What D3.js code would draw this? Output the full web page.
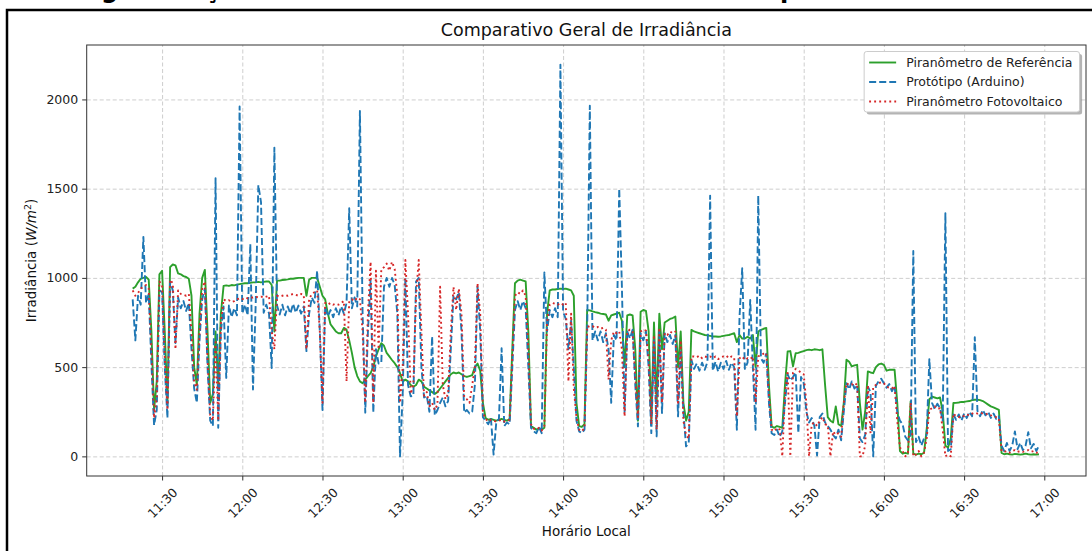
<!DOCTYPE html>
<html><head><meta charset="utf-8">
<script src="https://cdn.jsdelivr.net/npm/d3@7"></script>
<style>
body{margin:0;background:#fff}
svg{display:block}
text{font-family:"DejaVu Sans",sans-serif}
</style>
</head><body>
<svg id="chart" width="1092" height="551"></svg>
<script>
// ---------- DATA (one value per minute, starting at 11:19) ----------
const startTime = "11:19";
const stepMinutes = 1;

const referencia = [
 940,
 950, 975, 995,1000,1005, 990, 700, 260, 420,1020,
1040, 700, 300,1060,1075,1070,1025,1020,1010,1005,
 995, 900, 500, 400, 800,1000,1045, 700, 300, 350,
 700, 400, 800, 955, 958, 955, 960, 958, 962, 965,
 968, 970, 970, 972, 975, 975, 978, 975, 978, 980,
 980, 960, 700, 985, 985, 988, 990, 992, 995, 995,
 998,1000,1000,1000, 900, 990,1000,1000,1000, 950,
 900, 880, 800, 740, 720, 700, 690, 690, 720, 710,
 650, 580, 500, 450, 420, 410, 430, 450, 466, 500,
 560, 600, 634, 620, 580, 560, 540, 522, 500, 466,
 420, 430, 420, 400, 390, 400, 430, 420, 390, 380,
 370, 360, 350, 360, 380, 400, 420, 440, 460, 470,
 465, 470, 460, 450, 445, 450, 455, 500, 520, 480,
 300, 215, 205, 210, 205, 200, 205, 210, 205, 200,
 210, 600, 970, 985, 990, 985, 980, 700, 170, 160,
 150, 155, 150, 160, 800, 930, 935, 935, 938, 940,
 938, 940, 935, 930, 900, 300, 170, 165, 180, 820,
 818, 812, 808, 805, 800, 798, 795, 760, 790, 795,
 800, 805, 760, 500, 790, 795, 790, 600, 200, 810,
 820, 815, 700, 200, 750, 300, 800, 600, 750, 760,
 770, 775, 784, 500, 700, 300, 200, 250, 709, 700,
 695, 690, 685, 680, 678, 675, 672, 672, 670, 672,
 675, 678, 680, 685, 690, 640, 680, 660, 660, 670,
 660, 680, 500, 700, 709, 715, 720, 400, 168, 160,
 170, 165, 160, 400, 588, 590, 504, 578, 580, 585,
 590, 595, 598, 595, 600, 598, 595, 600, 400, 220,
 200, 190, 280, 180, 170, 300, 541, 530, 504, 510,
 513, 300, 150, 250, 476, 470, 466, 500, 515, 520,
 513, 480, 485, 485, 485, 300,  30,  15,  20,  15,
 308,  15,  10,  15,  12,  20, 150, 320, 335, 330,
 325, 330, 250,  60,  50, 100, 299, 300, 302, 305,
 305, 308, 310, 315, 317, 317, 315, 310, 300, 290,
 280, 275, 268, 261,  20,  12,  15,  12,  10,  14,
  12,  10,  12,  15,  12,  10,  12,  10,  12
];

const prototipo = [
 880,
 650, 900, 850,1230, 860, 910, 520, 175, 260, 930,
 920, 500, 215, 980, 930, 635, 890, 830, 870, 815,
 860, 600, 380, 300, 650, 880, 940, 500, 200, 170,
1558, 160, 700, 840, 440, 845, 780, 830, 790,1960,
 800, 850, 790,1190, 375, 845,1520,1425, 805, 850,
 800, 495,1730, 845, 795, 850, 790, 840, 800, 855,
 805, 845, 800, 840, 590, 800, 890, 860,1040, 700,
 260, 840, 785, 820, 780, 830, 790, 840, 800, 860,
1390, 830, 890, 840,1935, 800, 245, 700, 990, 245,
 600, 520, 525, 950,1000, 950,1000, 960, 800,   0,
 350,1000, 400, 336, 340, 980,1000, 500, 330, 340,
 250, 672, 230, 260, 300, 330, 280, 310, 600, 900,
 880, 920, 700, 245, 260, 240, 250, 400, 950, 700,
 220, 200, 180, 215,  10, 190, 210, 606, 170, 190,
 180, 500, 820, 870, 820, 870, 830, 500, 160, 140,
 130, 165, 130,1030, 700, 820, 780, 830, 780,2195,
 810, 770, 600, 760, 500, 200, 140, 130, 150, 690,
1965, 650, 700, 650, 700, 640, 690, 600, 300, 680,
 650,1500, 950, 250, 700, 660, 710, 400, 168, 690,
 650, 700, 500, 130, 650, 112, 700, 243, 690, 640,
 680, 630, 680, 224, 600, 250,  56,  75, 540, 490,
 520, 480, 525, 485, 530,1461, 480, 530, 475, 525,
 490, 535, 485, 525, 500, 149, 784,1054, 490, 525,
 877, 500, 149,1461, 550, 525, 575, 300, 130, 120,
 150, 110, 140, 300, 460, 425, 445, 470, 130, 445,
 410, 250, 190, 215, 170,   5, 220, 240, 190, 170,
 150, 120, 100, 150,  90, 250, 410, 375, 420, 380,
 400, 100,  80, 120, 390, 360,   0, 395, 420, 435,
 410, 385, 405, 365, 395, 250, 200, 180, 110,  90,
 120,1151,  80, 110,  60, 100, 120, 545, 300, 265,
 295, 270, 200,1362,  30,  40, 235, 205, 235, 200,
 240, 215, 250, 225, 668, 255, 225, 260, 230, 250,
 215, 240, 210, 225,  60,  30,  75,  30,  60, 140,
  40,  75,  35,  60, 135,  45,  70,  30,  60
];

const fotovoltaico = [
 930,
 900, 915, 940, 950, 960, 940, 600, 215, 330, 980,
 960, 560, 260, 990, 970, 600, 930, 910, 905, 900,
 910, 700, 420, 373, 700, 940, 980, 550, 230, 200,
 640, 200, 750, 880, 870, 875, 865, 870, 880, 885,
 880, 890, 885, 890, 890, 895, 890, 895, 890, 895,
 900, 700, 600, 900, 895, 900, 905, 900, 905, 910,
 905, 900, 910, 905, 600, 880, 910, 920, 930, 700,
 300, 860, 850, 860, 850, 855, 850, 860, 870, 420,
 870, 880, 870, 890, 880, 700, 300, 800,1090, 300,
1040, 600,1050,1060,1080,1040,1090,1050, 900, 300,
 500,1100, 800, 350, 400, 900,1100, 700, 340, 360,
 280, 300, 260, 290, 950, 400, 320, 350, 700, 950,
 820, 940, 800, 330, 320, 300, 400, 500, 970, 800,
 250, 210, 195, 205, 200, 195, 200, 205, 195, 200,
 205, 550, 900, 920, 910, 930, 900, 600, 180, 155,
 150, 160, 145, 170, 750, 850, 860, 855, 850, 860,
 850, 860, 420, 800, 380, 220, 150, 140, 160, 730,
 725, 730, 720, 725, 715, 720, 710, 430, 650, 700,
 690, 700, 600, 224, 700, 710, 700, 450, 220, 700,
 710, 705, 550, 180, 680, 150, 720, 300, 690, 680,
 700, 690, 700, 300, 650, 200, 120, 100, 560, 560,
 555, 565, 550, 560, 555, 560, 550, 560, 545, 555,
 560, 565, 550, 560, 555, 224, 550, 560, 540, 550,
 545, 560, 300, 560, 570, 575, 580, 350, 150, 140,
 160, 150,   0, 350, 480,   0, 470, 490, 480, 470,
 460, 300,   0, 180, 190, 170, 200, 220, 180, 175,
   0, 140, 120, 130, 110, 300, 410, 400, 405, 395,
 410,   0,   0,  60, 400, 130, 390, 400, 410, 415,
 410, 390, 385, 380, 395, 200,  50,  30,   0,  20,
 300,   0,  10,  30,   0,  20, 100, 260, 270, 280,
 265, 270, 150,   0,  10,   0, 240, 225, 220, 230,
 225, 235, 230, 240, 245, 240, 245, 240, 235, 240,
 230, 225, 220, 215,  30,  25,  30,  20,  30,  35,
  25,  30,  25,  30,  35,  25,  30,  20,  25
];

const seriesNames = ["Piranômetro de Referência", "Protótipo (Arduino)", "Piranômetro Fotovoltaico"];
const xTickLabels = ["11:30","12:00","12:30","13:00","13:30","14:00","14:30","15:00","15:30","16:00","16:30","17:00"];
const yTickValues = [0, 500, 1000, 1500, 2000];
const xDomain = ["11:01:48", "17:15:36"];
const yDomain = [-110, 2305];
const chartTitle = "Comparativo Geral de Irradiância";
const xLabel = "Horário Local";

// ---------- LAYOUT ----------
const svg = d3.select("#chart");
const plot = {left: 86.7, top: 45, right: 1086, bottom: 476};

const parseHM = d3.timeParse("%H:%M");
const parseHMS = d3.timeParse("%H:%M:%S");
const t0 = parseHM(startTime);

const x = d3.scaleTime().domain(xDomain.map(parseHMS)).range([plot.left, plot.right]);
const y = d3.scaleLinear().domain(yDomain).range([plot.bottom, plot.top]);

function toPoints(arr){ return arr.map((v,i)=>({t:d3.timeMinute.offset(t0, i*stepMinutes), v})); }

// descenders of the document caption that sits just above the figure (cut off by the page crop)
const cap = svg.append("g").attr("font-weight","bold").attr("font-size",24).attr("fill","#000");
cap.append("text").attr("x",101).attr("y",-2.5).text("g");
cap.append("text").attr("x",205).attr("y",-2.5).text("ç");
cap.append("text").attr("x",780).attr("y",-2.5).text("p");

// figure border
svg.append("rect").attr("x",7).attr("y",10).attr("width",1200).attr("height",700)
  .attr("fill","none").attr("stroke","#000").attr("stroke-width",2.5);

// grid
const xTicks = xTickLabels.map(parseHM);
const gridColor = "#c8c8c8";
svg.append("g").attr("transform",`translate(0,${plot.bottom})`)
  .call(d3.axisBottom(x).tickValues(xTicks).tickSize(-(plot.bottom-plot.top)).tickFormat(""))
  .call(g=>g.select(".domain").remove())
  .call(g=>g.selectAll("line").attr("stroke",gridColor).attr("stroke-width",0.9).attr("stroke-dasharray","4,2.5"));
svg.append("g").attr("transform",`translate(${plot.left},0)`)
  .call(d3.axisLeft(y).tickValues(yTickValues).tickSize(-(plot.right-plot.left)).tickFormat(""))
  .call(g=>g.select(".domain").remove())
  .call(g=>g.selectAll("line").attr("stroke",gridColor).attr("stroke-width",0.9).attr("stroke-dasharray","4,2.5"));

// clip
svg.append("clipPath").attr("id","clip").append("rect")
  .attr("x",plot.left).attr("y",plot.top).attr("width",plot.right-plot.left).attr("height",plot.bottom-plot.top);

const line = d3.line().x(d=>x(d.t)).y(d=>y(d.v));
const lw = 1.9;
const styles = [
  {data: referencia, color:"#2ca02c", dash:null},
  {data: prototipo, color:"#1f77b4", dash:`${3.7*lw},${1.6*lw}`},
  {data: fotovoltaico, color:"#d62728", dash:`${1*lw},${1.65*lw}`}
];
const gLines = svg.append("g").attr("clip-path","url(#clip)");
styles.forEach(s=>{
  gLines.append("path").datum(toPoints(s.data))
    .attr("d",line).attr("fill","none").attr("stroke",s.color)
    .attr("stroke-width",lw).attr("stroke-linejoin","round")
    .attr("stroke-dasharray",s.dash);
});

// frame
svg.append("rect").attr("x",plot.left).attr("y",plot.top)
  .attr("width",plot.right-plot.left).attr("height",plot.bottom-plot.top)
  .attr("fill","none").attr("stroke","#333").attr("stroke-width",1);

// axes
const tickFont = 12.5;
const xAxis = svg.append("g").attr("transform",`translate(0,${plot.bottom})`)
  .call(d3.axisBottom(x).tickValues(xTicks).tickSize(4.5).tickFormat(d3.timeFormat("%H:%M")));
xAxis.select(".domain").remove();
xAxis.selectAll("line").attr("stroke","#333");
xAxis.selectAll("text").attr("font-size",tickFont).attr("fill","#222")
  .attr("font-family","DejaVu Sans")
  .attr("y",0).attr("dy","0.35em").attr("text-anchor","middle")
  .attr("transform","translate(0,27) rotate(-45)");

const yAxis = svg.append("g").attr("transform",`translate(${plot.left},0)`)
  .call(d3.axisLeft(y).tickValues(yTickValues).tickSize(4.5).tickPadding(4).tickFormat(d3.format("d")));
yAxis.select(".domain").remove();
yAxis.selectAll("line").attr("stroke","#333");
yAxis.selectAll("text").attr("font-size",tickFont).attr("fill","#222").attr("font-family","DejaVu Sans");

// title and labels
svg.append("text").attr("x",(plot.left+plot.right)/2).attr("y",36)
  .attr("text-anchor","middle").attr("font-size",17.5).attr("fill","#111").text(chartTitle);
svg.append("text").attr("x",(plot.left+plot.right)/2).attr("y",536)
  .attr("text-anchor","middle").attr("font-size",13.5).attr("fill","#111").text(xLabel);

const yl = svg.append("text").attr("transform",`translate(36,${(plot.top+plot.bottom)/2}) rotate(-90)`)
  .attr("text-anchor","middle").attr("font-size",13.5).attr("fill","#111");
yl.append("tspan").text("Irradiância (");
yl.append("tspan").attr("font-style","italic").text("W/m");
yl.append("tspan").attr("font-size",9.5).attr("dy",-5.5).text("2");
yl.append("tspan").attr("dy",5.5).text(")");

// legend
const legFont = 12.5;
const leg = svg.append("g");
const legRight = plot.right - 6.5, legTop = plot.top + 6.5;
const rowH = 19.5, padX = 5, handleLen = 27, textPad = 10;
const tmp = leg.append("g");
let maxW = 0;
seriesNames.forEach(n=>{
  const t = tmp.append("text").attr("font-size",legFont).text(n);
  maxW = Math.max(maxW, t.node().getComputedTextLength());
});
tmp.remove();
const legW = padX + handleLen + textPad + maxW + padX + 2;
const legH = rowH*seriesNames.length + 2;
const legLeft = legRight - legW;
leg.append("rect").attr("x",legLeft+2.6).attr("y",legTop+2.6).attr("width",legW).attr("height",legH)
  .attr("rx",2.5).attr("fill","#777").attr("opacity",0.55);
leg.append("rect").attr("x",legLeft).attr("y",legTop).attr("width",legW).attr("height",legH)
  .attr("rx",2.5).attr("fill","#fff").attr("stroke","#ccc").attr("stroke-width",1);
seriesNames.forEach((n,i)=>{
  const cy = legTop + 11 + i*rowH;
  leg.append("line").attr("x1",legLeft+padX).attr("x2",legLeft+padX+handleLen)
    .attr("y1",cy).attr("y2",cy).attr("stroke",styles[i].color).attr("stroke-width",lw)
    .attr("stroke-dasharray",styles[i].dash);
  leg.append("text").attr("x",legLeft+padX+handleLen+textPad).attr("y",cy).attr("dy","0.35em")
    .attr("font-size",legFont).attr("fill","#222").text(n);
});
</script>
</body></html>
